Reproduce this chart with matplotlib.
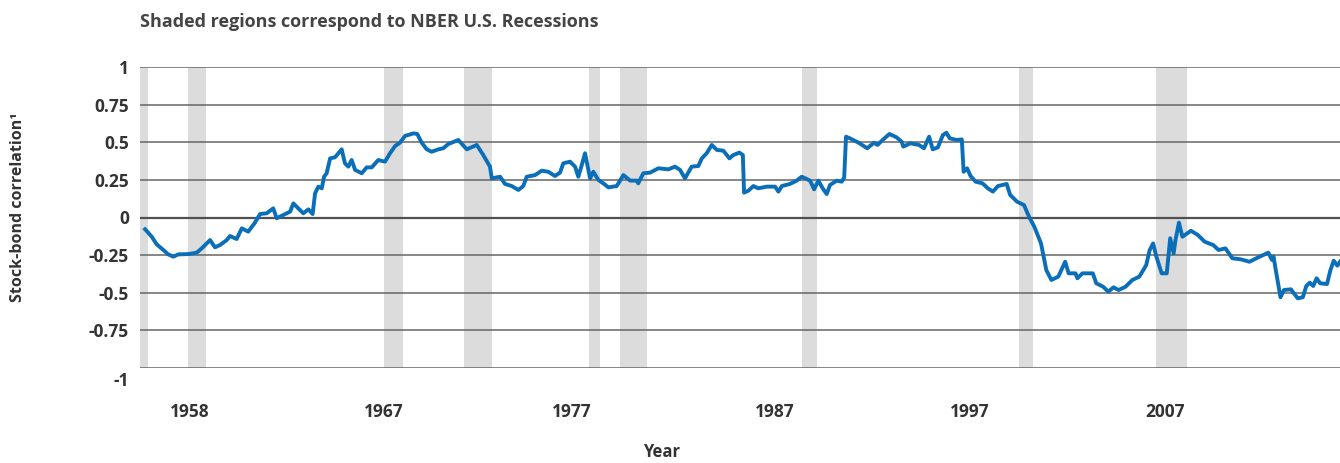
"""
Rolling stock-bond correlation with NBER recession shading.
"""

import matplotlib
matplotlib.use("Agg")
import matplotlib.pyplot as plt
from matplotlib.transforms import ScaledTranslation

# --- data ---
years = [
    1958.14, 1958.47, 1958.71, 1959.04, 1959.28, 1959.53, 1959.78, 1960.27, 1960.68, 1960.93,
    1961.34, 1961.58, 1961.83, 1962.16, 1962.32, 1962.65, 1962.90, 1963.22, 1963.55, 1963.80,
    1964.13, 1964.45, 1964.62, 1964.95, 1965.28, 1965.44, 1965.68, 1965.93, 1966.18, 1966.39,
    1966.51, 1966.67, 1966.84, 1966.95, 1967.08, 1967.25, 1967.49, 1967.82, 1967.98, 1968.15,
    1968.31, 1968.48, 1968.81, 1969.05, 1969.30, 1969.62, 1969.95, 1970.20, 1970.45, 1970.69,
    1970.94, 1971.35, 1971.54, 1971.76, 1972.01, 1972.25, 1972.58, 1972.82, 1973.07, 1973.56,
    1973.98, 1974.47, 1974.79, 1975.12, 1975.21, 1975.62, 1975.86, 1976.19, 1976.52, 1976.76,
    1976.93, 1977.34, 1977.67, 1977.99, 1978.32, 1978.57, 1978.73, 1979.06, 1979.31, 1979.47,
    1979.64, 1979.80, 1980.05, 1980.21, 1980.46, 1980.70, 1980.95, 1981.36, 1981.69, 1982.02,
    1982.35, 1982.42, 1982.67, 1983.00, 1983.41, 1983.90, 1984.23, 1984.48, 1984.72, 1985.05,
    1985.38, 1985.55, 1985.79, 1986.04, 1986.29, 1986.61, 1986.91, 1987.10, 1987.40, 1987.57,
    1987.63, 1987.84, 1988.09, 1988.33, 1988.75, 1989.16, 1989.32, 1989.49, 1989.89, 1990.22,
    1990.47, 1990.88, 1991.08, 1991.29, 1991.50, 1991.70, 1991.86, 1992.19, 1992.44, 1992.56,
    1992.65, 1992.84, 1993.27, 1993.69, 1994.03, 1994.20, 1994.45, 1994.79, 1995.13, 1995.39,
    1995.47, 1995.81, 1996.24, 1996.49, 1996.74, 1996.92, 1997.17, 1997.42, 1997.59, 1997.76,
    1998.10, 1998.35, 1998.44, 1998.61, 1998.78, 1999.03, 1999.37, 1999.63, 1999.88, 2000.13,
    2000.56, 2000.73, 2001.07, 2001.41, 2001.66, 2001.92, 2002.25, 2002.51, 2002.76, 2003.10,
    2003.44, 2003.61, 2003.95, 2004.04, 2004.29, 2004.80, 2004.97, 2005.31, 2005.56, 2005.82,
    2006.07, 2006.41, 2006.75, 2007.09, 2007.43, 2007.60, 2007.77, 2007.93, 2008.19, 2008.44,
    2008.61, 2008.78, 2008.87, 2009.04, 2009.21, 2009.63, 2009.97, 2010.31, 2010.73, 2010.99,
    2011.33, 2011.67, 2012.09, 2012.51, 2012.94, 2013.44, 2013.62, 2013.70, 2013.78, 2014.04,
    2014.21, 2014.55, 2014.89, 2015.14, 2015.31, 2015.48, 2015.65, 2015.82, 2015.99, 2016.33,
    2016.50, 2016.66, 2016.84, 2016.97,
]
correlation = [
    -0.078, -0.128, -0.178, -0.216, -0.245, -0.260, -0.245, -0.243, -0.234, -0.205,
    -0.150, -0.198, -0.183, -0.150, -0.123, -0.143, -0.072, -0.094, -0.034, 0.023,
    0.028, 0.061, -0.005, 0.017, 0.039, 0.094, 0.061, 0.028, 0.054, 0.023,
    0.161, 0.205, 0.194, 0.271, 0.294, 0.393, 0.400, 0.453, 0.360, 0.338,
    0.382, 0.316, 0.294, 0.333, 0.333, 0.382, 0.371, 0.427, 0.475, 0.497,
    0.542, 0.559, 0.555, 0.497, 0.453, 0.437, 0.453, 0.460, 0.488, 0.515,
    0.453, 0.482, 0.415, 0.338, 0.260, 0.271, 0.223, 0.209, 0.183, 0.209,
    0.271, 0.282, 0.311, 0.304, 0.276, 0.298, 0.360, 0.371, 0.338, 0.271,
    0.349, 0.427, 0.260, 0.304, 0.249, 0.227, 0.200, 0.209, 0.282, 0.245,
    0.245, 0.227, 0.294, 0.298, 0.327, 0.320, 0.338, 0.316, 0.260, 0.338,
    0.342, 0.393, 0.427, 0.482, 0.449, 0.444, 0.393, 0.415, 0.431, 0.415,
    0.165, 0.178, 0.209, 0.194, 0.205, 0.205, 0.172, 0.209, 0.223, 0.245,
    0.271, 0.245, 0.187, 0.245, 0.194, 0.156, 0.216, 0.245, 0.238, 0.267,
    0.537, 0.526, 0.497, 0.460, 0.497, 0.482, 0.515, 0.555, 0.533, 0.504,
    0.471, 0.493, 0.482, 0.460, 0.537, 0.453, 0.466, 0.548, 0.563, 0.526,
    0.515, 0.519, 0.304, 0.327, 0.276, 0.238, 0.227, 0.194, 0.172, 0.209,
    0.223, 0.150, 0.105, 0.083, 0.005, -0.061, -0.172, -0.349, -0.415, -0.393,
    -0.294, -0.371, -0.371, -0.404, -0.371, -0.371, -0.437, -0.460, -0.493, -0.464,
    -0.482, -0.460, -0.415, -0.393, -0.316, -0.216, -0.172, -0.260, -0.371, -0.371,
    -0.138, -0.238, -0.150, -0.034, -0.128, -0.088, -0.116, -0.161, -0.183, -0.216,
    -0.205, -0.271, -0.278, -0.294, -0.265, -0.234, -0.282, -0.260, -0.327, -0.530,
    -0.482, -0.477, -0.537, -0.530, -0.455, -0.433, -0.455, -0.404, -0.437, -0.442,
    -0.349, -0.287, -0.320, -0.294,
]

# NBER recessions (peak, trough) in decimal years
recession_start = [1957.60, 1960.25, 1969.92, 1973.83, 1980.00, 1981.50, 1990.50, 2001.17, 2007.92]
recession_end = [1958.30, 1961.12, 1970.85, 1975.20, 1980.52, 1982.85, 1991.20, 2001.87, 2009.45]

yticks = [1, 0.75, 0.5, 0.25, 0, -0.25, -0.5, -0.75, -1]
ytick_labels = ["1", "0.75", "0.5", "0.25", "0", "-0.25", "-0.5", "-0.75", "-1"]
xtick_labels = ["1958", "1967", "1977", "1987", "1997", "2007"]
xtick_pos = [1960.35, 1969.9, 1979.15, 1989.15, 1998.75, 2008.35]

plt.rcParams['font.family'] = ['Open Sans', 'DejaVu Sans']
text_color = "#333333"

fig = plt.figure(figsize=(13.4, 4.63), dpi=100)
ax = fig.add_axes([140 / 1340, (463 - 368) / 463, 1200 / 1340, (368 - 67) / 463])

# recession shading
for s, e in zip(recession_start, recession_end):
    ax.axvspan(s, e, color="#dcdcdc", lw=0, zorder=0)

# horizontal gridlines
for v in yticks:
    if v == 0:
        ax.axhline(v, color="#505050", lw=1.6, zorder=1)
    else:
        ax.axhline(v, color="#666666", lw=1.1, zorder=1)

ax.plot(years, correlation, color="#0a6fb8", lw=2.8, zorder=3, solid_joinstyle="round")

ax.set_xlim(1957.89, 2016.97)
ax.set_ylim(-1, 1)
for sp in ax.spines.values():
    sp.set_visible(False)

ax.set_yticks(yticks)
ax.set_yticklabels(ytick_labels, fontsize=12.5, fontweight="bold", color=text_color)
ax.set_xticks(xtick_pos)
ax.set_xticklabels(xtick_labels, fontsize=12.5, fontweight="bold", color=text_color)
ax.tick_params(axis="y", length=0, pad=8)
ax.tick_params(axis="x", length=0, pad=25)

# the "-1" label sits a bit below its line in the original
lbl = ax.get_yticklabels()[-1]
lbl.set_transform(lbl.get_transform() + ScaledTranslation(0, -0.11, fig.dpi_scale_trans))

fig.text(140 / 1340, 1 - 22 / 463, "Shaded regions correspond to NBER U.S. Recessions",
         fontsize=13, fontweight="bold", color="#444444", va="center", ha="left")
fig.text(18 / 1340, 1 - 207 / 463, "Stock-bond correlation\u00b9", rotation=90,
         fontsize=11.5, fontweight="bold", color=text_color, va="center", ha="center")
fig.text(662 / 1340, 1 - 452 / 463, "Year", fontsize=12, fontweight="bold",
         color=text_color, va="center", ha="center")

plt.savefig("out.png", dpi=100)
